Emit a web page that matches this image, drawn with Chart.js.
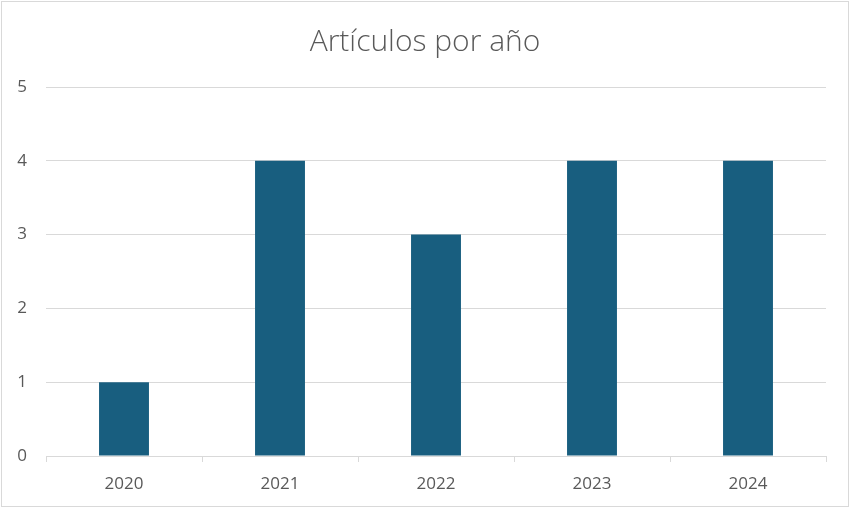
<!DOCTYPE html>
<html>
<head>
<meta charset="utf-8">
<script src="https://cdn.jsdelivr.net/npm/chart.js@4/dist/chart.umd.min.js"></script>
<style>
  html, body { margin: 0; padding: 0; background: #ffffff; }
  #wrap { width: 851px; height: 509px; position: relative; }
</style>
</head>
<body>
<div id="wrap"><canvas id="c" width="851" height="509"></canvas></div>
<script>
// Articles published per year
const years = ['2020', '2021', '2022', '2023', '2024'];
const articles = [1, 4, 3, 4, 4];
const titleText = 'Artículos por año';

const textGray = '#595959';
const gridGray = '#d9d9d9';
const barBlue = '#185e7f';

// Title and outer frame drawn on the canvas
const frameAndTitle = {
  id: 'frameAndTitle',
  beforeDraw(chart) {
    const ctx = chart.ctx;
    ctx.save();
    ctx.fillStyle = '#ffffff';
    ctx.fillRect(0, 0, chart.width, chart.height);
    ctx.strokeStyle = gridGray;
    ctx.lineWidth = 1;
    ctx.strokeRect(1.5, 1.5, 847, 505);
    ctx.restore();
  },
  afterDraw(chart) {
    const ctx = chart.ctx;
    ctx.save();
    ctx.fillStyle = textGray;
    ctx.font = '300 30px "Open Sans"';
    ctx.textAlign = 'center';
    ctx.textBaseline = 'middle';
    ctx.fillText(titleText, 425, 42);
    ctx.restore();
  }
};

new Chart(document.getElementById('c'), {
  type: 'bar',
  data: {
    labels: years,
    datasets: [{
      data: articles,
      backgroundColor: barBlue,
      borderWidth: 0,
      categoryPercentage: 1,
      barPercentage: 0.32
    }]
  },
  options: {
    responsive: false,
    animation: false,
    devicePixelRatio: 1,
    layout: { padding: { top: 87, left: 0, right: 25, bottom: 0 } },
    plugins: {
      legend: { display: false },
      title: { display: false },
      tooltip: { enabled: false }
    },
    scales: {
      x: {
        offset: true,
        afterFit(scale) { scale.height = 53; },
        grid: {
          offset: true,
          drawOnChartArea: false,
          drawTicks: true,
          tickLength: 6,
          color: gridGray
        },
        border: { display: true, color: gridGray },
        ticks: {
          color: textGray,
          font: { family: '"Open Sans"', size: 17 },
          padding: 12
        }
      },
      y: {
        min: 0,
        max: 5,
        afterFit(scale) { scale.width = 46; },
        grid: { color: gridGray, drawTicks: false },
        border: { display: false },
        ticks: {
          stepSize: 1,
          color: textGray,
          font: { family: '"Open Sans"', size: 17 },
          padding: 19
        }
      }
    }
  },
  plugins: [frameAndTitle]
});
</script>
</body>
</html>
